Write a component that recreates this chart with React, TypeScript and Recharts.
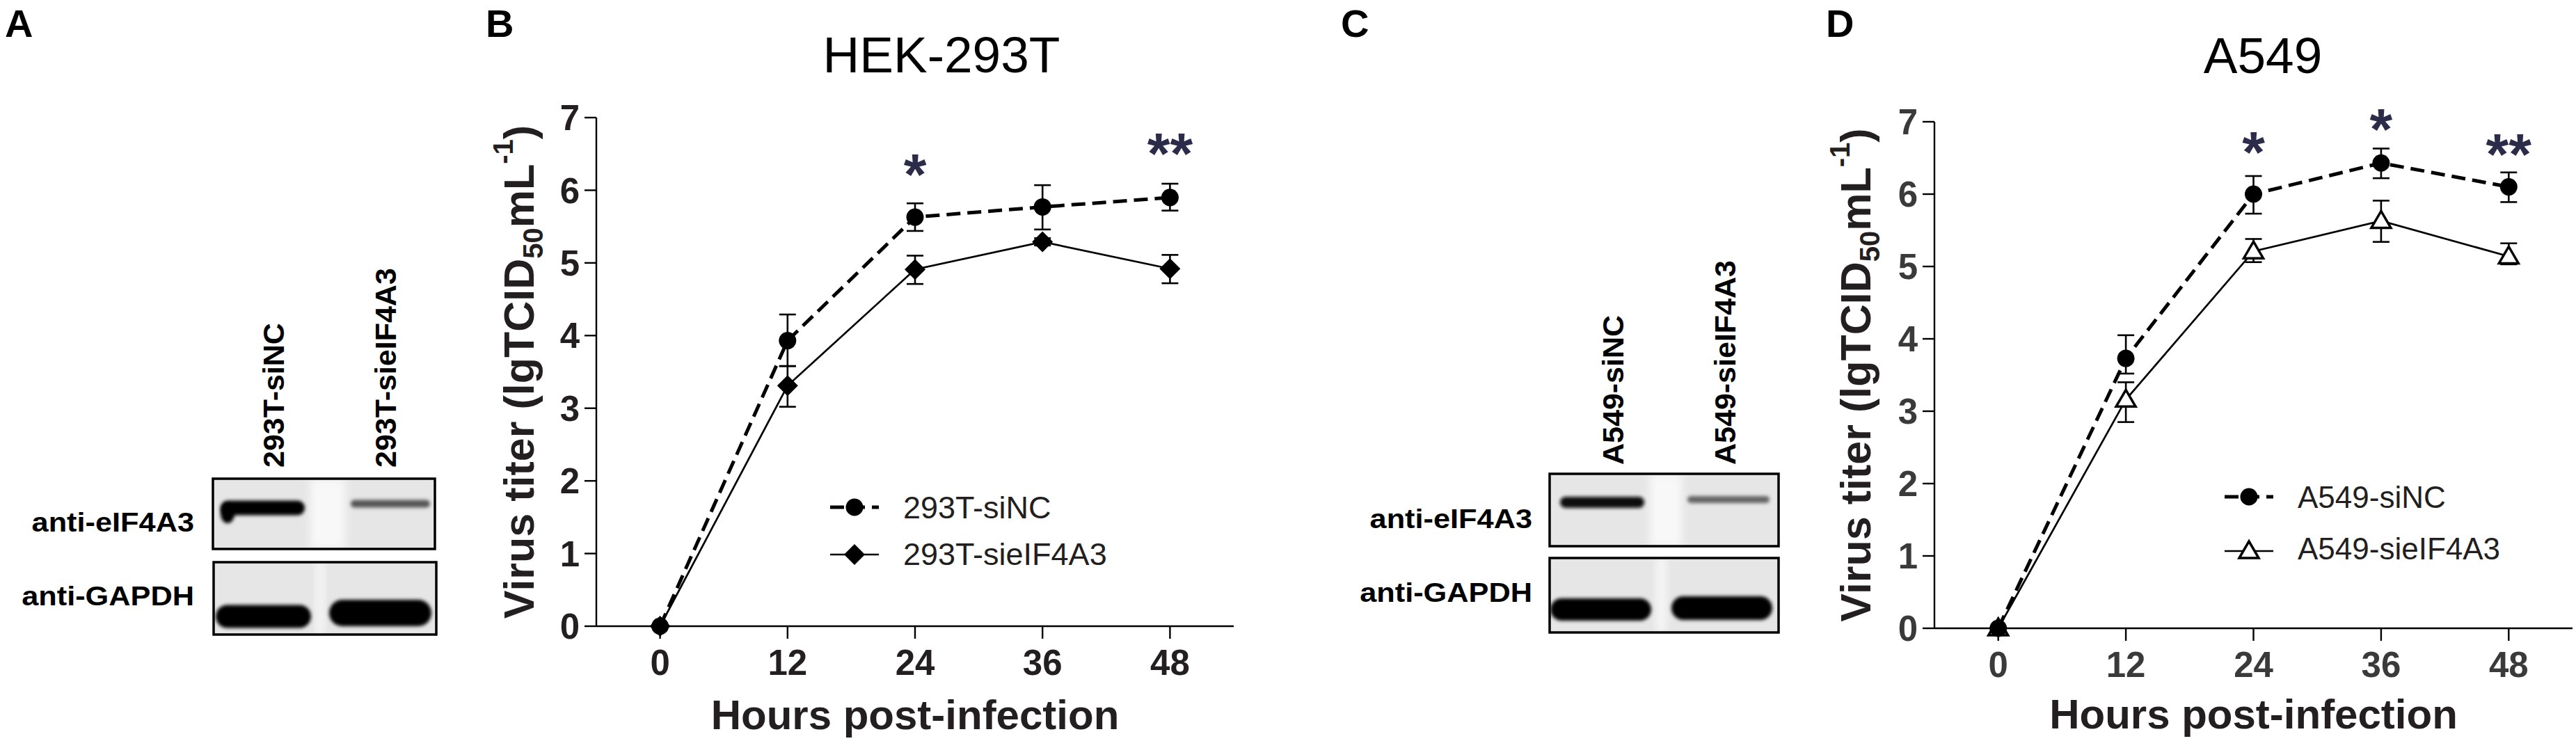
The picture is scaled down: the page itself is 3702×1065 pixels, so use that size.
import React from "react";
import {
  ComposedChart,
  Line,
  XAxis,
  YAxis,
  ErrorBar,
  ReferenceDot,
  Label,
} from "recharts";

const FONT = "'Liberation Sans', Arial, Helvetica, sans-serif";
const INK = "#231f20";
const STAR_INK = "#2c2c4a";

// ---- data -----------------------------------------------------------------
const hours = [0, 12, 24, 36, 48];
const titerTicks = [0, 1, 2, 3, 4, 5, 6, 7];

// HEK-293T (panel B), lgTCID50/mL; error bars as [down, up]
const hekSiNC = [0, 3.93, 5.63, 5.77, 5.9];
const hekSiNCErr = [[0, 0], [0.35, 0.36], [0.19, 0.19], [0.31, 0.3], [0.18, 0.19]];
const hekSiEIF = [0, 3.31, 4.91, 5.29, 4.92];
const hekSiEIFErr = [[0, 0], [0.29, 0.27], [0.2, 0.19], [0.05, 0.05], [0.2, 0.19]];
const hekStarHours = [24, 48];
const hekStarLevel = [6.4, 6.68];
const hekStarText = ["*", "**"];

// A549 (panel D)
const a549SiNC = [0, 3.73, 6.0, 6.43, 6.1];
const a549SiNCErr = [[0, 0], [0.21, 0.32], [0.27, 0.25], [0.21, 0.2], [0.21, 0.2]];
const a549SiEIF = [0, 3.16, 5.21, 5.63, 5.14];
const a549SiEIFErr = [[0, 0], [0.31, 0.24], [0.15, 0.17], [0.29, 0.28], [0.11, 0.18]];
const a549StarHours = [24, 36, 48];
const a549StarLevel = [6.76, 7.08, 6.73];
const a549StarText = ["*", "*", "**"];

// western blots: relative band intensity per lane
const blotRows = ["anti-eIF4A3", "anti-GAPDH"];
const blotALanes = ["293T-siNC", "293T-sieIF4A3"];
const blotAEIF = [1, 0.62];
const blotAGAPDH = [1, 1];
const blotCLanes = ["A549-siNC", "A549-sieIF4A3"];
const blotCEIF = [0.95, 0.55];
const blotCGAPDH = [1, 1];

// ---- markers ----------------------------------------------------------------
const circleDot = (p: any) => (
  <circle key={`c-${p.index}`} cx={p.cx} cy={p.cy} r={12.5} fill="#000" />
);
const diamondDot = (p: any) => (
  <polygon
    key={`d-${p.index}`}
    points={`${p.cx},${p.cy - 15} ${p.cx + 15},${p.cy} ${p.cx},${p.cy + 15} ${p.cx - 15},${p.cy}`}
    fill="#000"
  />
);
const triangleDot = (p: any) => (
  <polygon
    key={`t-${p.index}`}
    points={`${p.cx},${p.cy - 14} ${p.cx + 14},${p.cy + 10} ${p.cx - 14},${p.cy + 10}`}
    fill="#fff"
    stroke="#000"
    strokeWidth={3.5}
  />
);

// ---- axis titles --------------------------------------------------------------
function YTitle({ viewBox, gap }: any) {
  const bx = viewBox.x + viewBox.width - gap;
  const cy = viewBox.y + viewBox.height / 2;
  return (
    <text
      x={bx}
      y={cy}
      transform={`rotate(-90 ${bx} ${cy})`}
      textAnchor="middle"
      fontFamily={FONT}
      fontWeight={700}
      fontSize={61}
      fill={INK}
    >
      Virus titer (lgTCID
      <tspan fontSize={40} dy={13}>50</tspan>
      <tspan dy={-13}>mL</tspan>
      <tspan fontSize={40} dy={-30}>-1</tspan>
      <tspan dy={30}>)</tspan>
    </text>
  );
}

function XTitle({ viewBox, gap }: any) {
  return (
    <text
      x={viewBox.x + viewBox.width / 2}
      y={viewBox.y + gap}
      textAnchor="middle"
      fontFamily={FONT}
      fontWeight={700}
      fontSize={60}
      fill={INK}
    >
      Hours post-infection
    </text>
  );
}

function GrowthChart(props: any) {
  const {
    left, width, margin, nc, ncErr, kd, kdErr, kdDot,
    starHours, starLevel, starText, tickInk, yGap, xGap,
  } = props;
  const rows = hours.map((h, i) => ({
    h,
    nc: nc[i],
    ncErr: ncErr[i],
    kd: kd[i],
    kdErr: kdErr[i],
  }));
  const tickStyle = { fill: tickInk, fontSize: 51, fontWeight: 700, fontFamily: FONT };
  const axisStroke = { stroke: "#000", strokeWidth: 2.4 };
  return (
    <div style={{ position: "absolute", left, top: 0 }}>
      <ComposedChart width={width} height={1065} data={rows} margin={margin}>
        <XAxis
          type="number"
          dataKey="h"
          domain={[-6, 54]}
          ticks={hours}
          interval={0}
          height={60}
          tickSize={18}
          tickMargin={16}
          tick={tickStyle}
          axisLine={axisStroke}
          tickLine={axisStroke}
        >
          <Label content={(p: any) => <XTitle viewBox={p.viewBox} gap={xGap} />} />
        </XAxis>
        <YAxis
          type="number"
          domain={[0, 7]}
          ticks={titerTicks}
          interval={0}
          width={60}
          tickSize={17}
          tickMargin={7}
          tick={tickStyle}
          axisLine={axisStroke}
          tickLine={axisStroke}
        >
          <Label content={(p: any) => <YTitle viewBox={p.viewBox} gap={yGap} />} />
        </YAxis>
        <Line
          type="linear"
          dataKey="kd"
          stroke="#000"
          strokeWidth={2.7}
          dot={kdDot}
          activeDot={false}
          isAnimationActive={false}
        >
          <ErrorBar dataKey="kdErr" width={12} strokeWidth={2.6} stroke="#000" direction="y" isAnimationActive={false} />
        </Line>
        <Line
          type="linear"
          dataKey="nc"
          stroke="#000"
          strokeWidth={5}
          strokeDasharray="20 10"
          dot={circleDot}
          activeDot={false}
          isAnimationActive={false}
        >
          <ErrorBar dataKey="ncErr" width={12} strokeWidth={2.6} stroke="#000" direction="y" isAnimationActive={false} />
        </Line>
        {starHours.map((h: number, i: number) => (
          <ReferenceDot
            key={`s-${i}`}
            x={h}
            y={starLevel[i]}
            r={0}
            ifOverflow="visible"
            shape={(p: any) => (
              <text
                x={p.cx}
                y={p.cy + 48}
                textAnchor="middle"
                fontFamily={FONT}
                fontWeight={700}
                fontSize={84}
                fill={STAR_INK}
              >
                {starText[i]}
              </text>
            )}
          />
        ))}
      </ComposedChart>
    </div>
  );
}

// ---- western blot panels -------------------------------------------------------
const bandFill = (v: number) => {
  const g = Math.round(225 * (1 - v));
  return `rgb(${g},${g},${g})`;
};

function Blot({ id, lanes, eif, gapdh, layout }: any) {
  const intens = [eif, gapdh];
  return (
    <g>
      {blotRows.map((r, i) => (
        <text
          key={r}
          transform={`translate(${layout.labelRight} ${layout.rowBaselines[i]}) scale(1.14 1)`}
          x={0}
          y={0}
          textAnchor="end"
          fontFamily={FONT}
          fontWeight={700}
          fontSize={38}
          fill="#000"
        >
          {r}
        </text>
      ))}
      {lanes.map((l: string, i: number) => (
        <text
          key={l}
          x={layout.laneX[i]}
          y={layout.laneBottom}
          transform={`rotate(-90 ${layout.laneX[i]} ${layout.laneBottom})`}
          textAnchor="start"
          fontFamily={FONT}
          fontWeight={700}
          fontSize={43}
          fill="#000"
        >
          {l}
        </text>
      ))}
      {layout.boxes.map((b: any, bi: number) => (
        <g key={bi}>
          <clipPath id={`${id}-clip-${bi}`}>
            <rect x={b.x} y={b.y} width={b.w} height={b.h} />
          </clipPath>
          <g clipPath={`url(#${id}-clip-${bi})`}>
            <rect x={b.x} y={b.y} width={b.w} height={b.h} fill="#e6e6e6" />
            <rect
              x={layout.bands[bi][0].x + layout.bands[bi][0].w + 8}
              y={b.y}
              width={layout.bands[bi][1].x - layout.bands[bi][0].x - layout.bands[bi][0].w - 16}
              height={b.h}
              fill="#f8f8f8"
              filter="url(#blur-soft)"
            />
            {layout.bands[bi].map((band: any, li: number) => (
              <rect
                key={li}
                x={band.x}
                y={band.cy - band.h / 2}
                width={band.w}
                height={band.h}
                rx={band.h / 2}
                fill={bandFill(intens[bi][li])}
                filter="url(#blur-band)"
              />
            ))}
            {layout.smear && bi === 0 ? (
              <ellipse
                cx={layout.smear.cx}
                cy={layout.smear.cy}
                rx={layout.smear.rx}
                ry={layout.smear.ry}
                fill={bandFill(intens[0][0])}
                filter="url(#blur-band)"
              />
            ) : null}
          </g>
          <rect x={b.x} y={b.y} width={b.w} height={b.h} fill="none" stroke="#000" strokeWidth={3.5} />
        </g>
      ))}
    </g>
  );
}

const blotALayout = {
  labelRight: 279,
  rowBaselines: [764, 870],
  laneX: [408, 569],
  laneBottom: 672,
  boxes: [
    { x: 306, y: 688, w: 319, h: 101 },
    { x: 307, y: 808, w: 320, h: 104 },
  ],
  bands: [
    [{ x: 317, w: 121, cy: 730, h: 21 }, { x: 504, w: 114, cy: 724, h: 11 }],
    [{ x: 310, w: 137, cy: 886, h: 33 }, { x: 473, w: 147, cy: 881, h: 38 }],
  ],
  smear: { cx: 327, cy: 738, rx: 10, ry: 14 },
};

const blotCLayout = {
  labelRight: 2202,
  rowBaselines: [759, 865],
  laneX: [2333, 2494],
  laneBottom: 668,
  boxes: [
    { x: 2227, y: 681, w: 329, h: 104 },
    { x: 2227, y: 802, w: 329, h: 107 },
  ],
  bands: [
    [{ x: 2242, w: 121, cy: 722, h: 16 }, { x: 2425, w: 118, cy: 718, h: 10 }],
    [{ x: 2228, w: 145, cy: 876, h: 32 }, { x: 2402, w: 145, cy: 874, h: 34 }],
  ],
};

// ---- legends / overlay text --------------------------------------------------------
function LegendRows({ x, rows, fontSize, kdShape }: any) {
  return (
    <g>
      {rows.map((r: any, i: number) => (
        <g key={r.label}>
          <line
            x1={x - 35}
            x2={x + 35}
            y1={r.cy}
            y2={r.cy}
            stroke="#000"
            strokeWidth={i === 0 ? 5 : 2.7}
            strokeDasharray={i === 0 ? "20 10" : undefined}
          />
          {i === 0
            ? circleDot({ cx: x, cy: r.cy, index: "lg" })
            : kdShape({ cx: x, cy: r.cy, index: "lg" })}
          <text x={x + 70} y={r.baseline} fontFamily={FONT} fontSize={fontSize} fill={INK}>
            {r.label}
          </text>
        </g>
      ))}
    </g>
  );
}

export default function App() {
  const letterStyle = { fontFamily: FONT, fontWeight: 700, fontSize: 56, fill: "#000" };
  return (
    <div style={{ position: "absolute", left: 0, top: 0, width: 3702, height: 1065, background: "#fff" }}>
      <GrowthChart
        left={700}
        width={1100}
        margin={{ top: 169, right: 27, left: 97, bottom: 105 }}
        nc={hekSiNC}
        ncErr={hekSiNCErr}
        kd={hekSiEIF}
        kdErr={hekSiEIFErr}
        kdDot={diamondDot}
        starHours={hekStarHours}
        starLevel={hekStarLevel}
        starText={hekStarText}
        tickInk={INK}
        yGap={90}
        xGap={148}
      />
      <GrowthChart
        left={2600}
        width={1102}
        margin={{ top: 175, right: 5, left: 120, bottom: 102 }}
        nc={a549SiNC}
        ncErr={a549SiNCErr}
        kd={a549SiEIF}
        kdErr={a549SiEIFErr}
        kdDot={triangleDot}
        starHours={a549StarHours}
        starLevel={a549StarLevel}
        starText={a549StarText}
        tickInk="#3a3a3a"
        yGap={92}
        xGap={144}
      />
      <svg
        width={3702}
        height={1065}
        style={{ position: "absolute", left: 0, top: 0, pointerEvents: "none" }}
      >
        <defs>
          <filter id="blur-band" x="-20%" y="-100%" width="140%" height="300%">
            <feGaussianBlur stdDeviation={2.5} />
          </filter>
          <filter id="blur-soft" x="-50%" y="-50%" width="200%" height="200%">
            <feGaussianBlur stdDeviation={6} />
          </filter>
        </defs>
        <text x={7} y={53} {...letterStyle}>A</text>
        <text x={698} y={53} {...letterStyle}>B</text>
        <text x={1927} y={53} {...letterStyle}>C</text>
        <text x={2624} y={53} {...letterStyle}>D</text>

        <text x={1353} y={104} textAnchor="middle" fontFamily={FONT} fontSize={73} fill="#000">
          HEK-293T
        </text>
        <text x={3252} y={105} textAnchor="middle" fontFamily={FONT} fontSize={73} fill="#000">
          A549
        </text>

        <Blot id="ba" lanes={blotALanes} eif={blotAEIF} gapdh={blotAGAPDH} layout={blotALayout} />
        <Blot id="bc" lanes={blotCLanes} eif={blotCEIF} gapdh={blotCGAPDH} layout={blotCLayout} />

        <LegendRows
          x={1228}
          fontSize={45}
          kdShape={diamondDot}
          rows={[
            { label: "293T-siNC", cy: 729, baseline: 745 },
            { label: "293T-sieIF4A3", cy: 797, baseline: 812 },
          ]}
        />
        <LegendRows
          x={3232}
          fontSize={44}
          kdShape={triangleDot}
          rows={[
            { label: "A549-siNC", cy: 714, baseline: 730 },
            { label: "A549-sieIF4A3", cy: 792, baseline: 804 },
          ]}
        />
      </svg>
    </div>
  );
}
